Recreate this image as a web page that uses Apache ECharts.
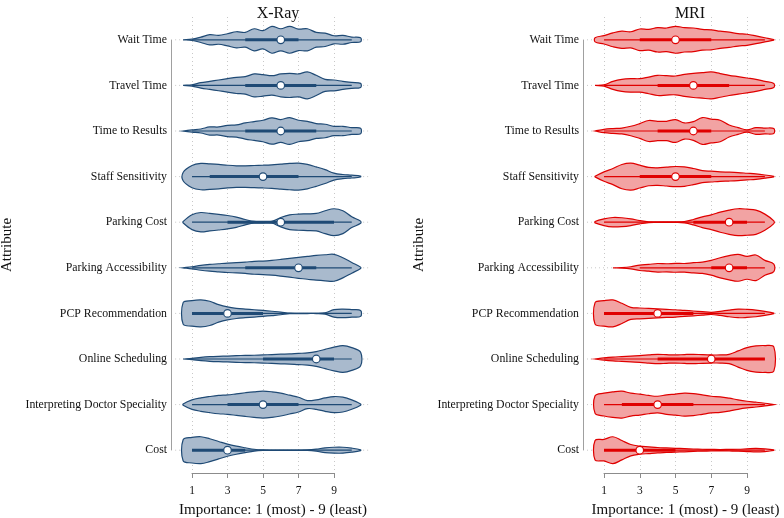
<!DOCTYPE html>
<html lang="en">
<head>
  <meta charset="UTF-8">
  <title>Attribute importance violins</title>
  <style>body{margin:0;background:#fff}</style>
</head>
<body>
  <div id="main" style="width:784px;height:518px;"></div>
  <script src="https://cdn.jsdelivr.net/npm/echarts@6/dist/echarts.min.js"></script>
  <script>
  var attributes = ['Wait Time', 'Travel Time', 'Time to Results', 'Staff Sensitivity', 'Parking Cost',
    'Parking Accessibility', 'PCP Recommendation', 'Online Scheduling', 'Interpreting Doctor Speciality', 'Cost']
  // score points where the density outline is read
  var scoreGrid = [0.5, 1, 1.5, 2, 2.5, 3, 3.5, 4, 4.5, 5, 5.5, 6, 6.5, 7, 7.5, 8, 8.5, 9, 9.5, 10, 10.5]

  // X-Ray: relative density per attribute
  var xrayDensity = [
    [0, .05, .2, .38, .33, .45, .6, .55, .82, .68, 1.0, .82, 1.0, .8, .82, .55, .5, .3, .33, .2, .15],
    [0, .05, .2, .3, .4, .5, .6, .65, .85, .8, .72, .85, .9, .85, 1.0, .75, .45, .4, .3, .22, .15],
    [0, .08, .15, .3, .3, .42, .45, .6, .7, .8, .98, .85, 1.0, .8, .72, .55, .5, .35, .35, .25, .2],
    [.3, .8, .95, .92, .88, .82, .78, .78, .8, .82, .85, .9, .95, .97, .88, .7, .5, .25, .15, .1, .03],
    [.05, .55, .72, .65, .58, .5, .38, .2, .06, .05, .06, .35, .55, .6, .62, .65, .85, 1.0, .85, .4, .08],
    [0, .08, .18, .25, .3, .35, .38, .42, .48, .5, .55, .62, .7, .78, .85, .92, .97, 1.0, .75, .4, .05],
    [.8, .95, 1.0, .9, .65, .48, .38, .32, .27, .22, .16, .1, .02, .01, .01, .01, .05, .28, .32, .28, .22],
    [0, .05, .12, .17, .2, .22, .25, .27, .28, .3, .33, .36, .38, .42, .45, .55, .72, .88, 1.0, .85, .5],
    [.05, .35, .5, .6, .68, .72, .8, .88, .95, 1.0, .95, .85, .7, .55, .3, .35, .5, .6, .55, .35, .05],
    [.78, .95, 1.0, .85, .65, .45, .3, .18, .07, .02, .01, .01, .01, .01, .02, .08, .18, .22, .22, .15, .03]
  ]
  var xrayMedian = [6, 6, 6, 5, 6, 7, 3, 8, 5, 3]
  var xrayQ1 = [4, 4, 4, 2, 3, 4, 1, 5, 3, 1]
  var xrayQ3 = [7, 8, 8, 7, 9, 8, 5, 9, 7, 4]
  var xrayLow = [1, 1, 1, 1, 1, 1, 1, 1, 1, 1]
  var xrayHigh = [10, 10, 10, 10, 10, 10, 10, 10, 10, 10]

  // MRI
  var mriDensity = [
    [.15, .3, .5, .62, .58, .78, .75, .88, .85, .97, .88, .85, .75, .72, .62, .55, .45, .4, .28, .15, .02],
    [0, .05, .3, .45, .5, .5, .62, .75, .72, .7, .82, .9, .95, 1.0, .88, .75, .65, .55, .45, .3, .15],
    [0, .12, .18, .22, .35, .55, .78, .72, .72, .85, .6, .7, 1.0, .88, .8, .45, .25, .08, .25, .22, .18],
    [.02, .35, .6, .9, 1.0, .85, .68, .65, .7, .75, .72, .6, .45, .4, .35, .33, .3, .25, .2, .12, .02],
    [.05, .25, .35, .33, .25, .12, .03, .02, .02, .02, .05, .2, .4, .55, .75, .9, 1.0, .97, .9, .6, .1],
    [0, 0, 0, .02, .08, .2, .25, .32, .3, .33, .32, .38, .42, .55, .75, .9, 1.0, .85, .95, .55, .28],
    [.8, .95, 1.0, .75, .45, .4, .37, .33, .3, .27, .22, .18, .13, .08, .15, .25, .32, .3, .25, .15, .02],
    [0, .08, .14, .18, .22, .25, .3, .35, .32, .3, .33, .35, .32, .3, .3, .35, .6, .85, .97, 1.0, .9],
    [.65, .85, .95, 1.0, .85, .78, .68, .62, .72, .78, .85, .82, .72, .62, .58, .48, .35, .25, .18, .1, 0],
    [.72, .8, 1.0, .72, .42, .3, .25, .2, .17, .14, .12, .09, .07, .06, .05, .06, .07, .1, .13, .1, .02]
  ]
  var mriMedian = [5, 6, 6, 5, 8, 8, 4, 7, 4, 3]
  var mriQ1 = [3, 4, 4, 3, 6, 7, 1, 4, 2, 1]
  var mriQ3 = [7, 8, 7, 7, 9, 9, 6, 10, 6, 5]
  var mriLow = [1, 1, 1, 1, 1, 3, 1, 1, 1, 1]
  var mriHigh = [10, 10, 10, 10, 10, 10, 10, 10, 10, 10]

  var serif = 'Liberation Serif'
  var myChart = echarts.init(document.getElementById('main'))

  function violinSeries(gridIdx, density, q1, med, q3, lo, hi, stroke, fill) {
    return {
      type: 'custom',
      xAxisIndex: gridIdx,
      yAxisIndex: gridIdx,
      clip: false,
      data: attributes.map(function (a, i) { return [i] }),
      renderItem: function (params, api) {
        var i = params.dataIndex
        var d = density[i]
        var band = api.size([0, 1])[1]
        var scale = band * 0.295 / Math.max.apply(null, d)
        var cy = api.coord([1, i])[1]
        var first = 0, last = d.length - 1
        while (d[first] === 0) first++
        while (d[last] === 0) last--
        var start = first > 0 ? first - 1 : first
        var end = last < d.length - 1 ? last + 1 : last
        var top = [], bottom = []
        for (var k = start; k <= end; k++) {
          var px = api.coord([scoreGrid[k], i])[0]
          top.push([px, cy - d[k] * scale])
          bottom.unshift([px, cy + d[k] * scale])
        }
        var x = function (v) { return api.coord([v, i])[0] }
        return {
          type: 'group',
          children: [
            { type: 'line', shape: { x1: x(0.05), y1: cy, x2: x(11), y2: cy },
              style: { stroke: '#c8c8c8', lineWidth: 1, lineDash: [1, 3] } },
            { type: 'polygon', shape: { points: top.concat(bottom), smooth: 0.35 },
              style: { fill: fill, stroke: stroke, lineWidth: 1.2 } },
            { type: 'line', shape: { x1: x(lo[i]), y1: cy, x2: x(hi[i]), y2: cy },
              style: { stroke: stroke, lineWidth: 1.2 } },
            { type: 'line', shape: { x1: x(q1[i]), y1: cy, x2: x(q3[i]), y2: cy },
              style: { stroke: stroke, lineWidth: 3 } },
            { type: 'circle', shape: { cx: x(med[i]), cy: cy, r: 3.8 },
              style: { fill: '#fff', stroke: stroke, lineWidth: 1.2 } }
          ]
        }
      }
    }
  }

  function plotX(gridIdx) {
    return {
      gridIndex: gridIdx, type: 'value', min: 1, max: 9, interval: 2,
      axisLine: { show: true, onZero: false, lineStyle: { color: '#8c8c8c', width: 1 } },
      axisTick: { show: true, length: 5, lineStyle: { color: '#8c8c8c' } },
      axisLabel: { fontFamily: serif, fontSize: 11.5, color: '#111', margin: 12 },
      splitLine: { lineStyle: { type: [1, 3], color: '#c8c8c8' } },
      name: 'Importance: 1 (most) - 9 (least)', nameLocation: 'middle', nameGap: 30,
      nameTextStyle: { fontFamily: serif, fontSize: 15, color: '#111', padding: [0, 0, 0, 20] }
    }
  }
  function plotY(gridIdx) {
    return {
      gridIndex: gridIdx, type: 'category', data: attributes, inverse: true, offset: 21,
      axisLine: { show: false }, axisTick: { show: false },
      axisLabel: { fontFamily: serif, fontSize: 11.8, color: '#111', margin: 4 },
      name: 'Attribute', nameLocation: 'middle', nameGap: 156, nameRotate: 90,
      nameTextStyle: { fontFamily: serif, fontSize: 15, color: '#111' }
    }
  }
  function lineX(gridIdx) {
    return { gridIndex: gridIdx, type: 'value', min: 1, max: 9, show: false }
  }
  function lineY(gridIdx) {
    return {
      gridIndex: gridIdx, type: 'value', min: 0, max: 9, offset: 21,
      axisLine: { show: true, lineStyle: { color: '#a0a0a0' } },
      axisTick: { show: false }, axisLabel: { show: false }, splitLine: { show: false }
    }
  }

  var option = {
    animation: false,
    title: [
      { text: 'X-Ray', left: 273, top: 1, textAlign: 'center',
        textStyle: { fontFamily: serif, fontSize: 16, fontWeight: 'normal', color: '#111' } },
      { text: 'MRI', left: 685, top: 1, textAlign: 'center',
        textStyle: { fontFamily: serif, fontSize: 16, fontWeight: 'normal', color: '#111' } }
    ],
    grid: [
      { left: 192, width: 142, top: 17, bottom: 45, outerBoundsMode: 'none' },
      { left: 604, width: 143, top: 17, bottom: 45, outerBoundsMode: 'none' },
      { left: 192, width: 142, top: 40, height: 410, outerBoundsMode: 'none' },
      { left: 604, width: 143, top: 40, height: 410, outerBoundsMode: 'none' }
    ],
    xAxis: [plotX(0), plotX(1), lineX(2), lineX(3)],
    yAxis: [plotY(0), plotY(1), lineY(2), lineY(3)],
    series: [
      violinSeries(0, xrayDensity, xrayQ1, xrayMedian, xrayQ3, xrayLow, xrayHigh, '#1f4a75', '#a9bacd'),
      violinSeries(1, mriDensity, mriQ1, mriMedian, mriQ3, mriLow, mriHigh, '#e00000', '#f2a3a3')
    ]
  }
  myChart.setOption(option)
  </script>
</body>
</html>
